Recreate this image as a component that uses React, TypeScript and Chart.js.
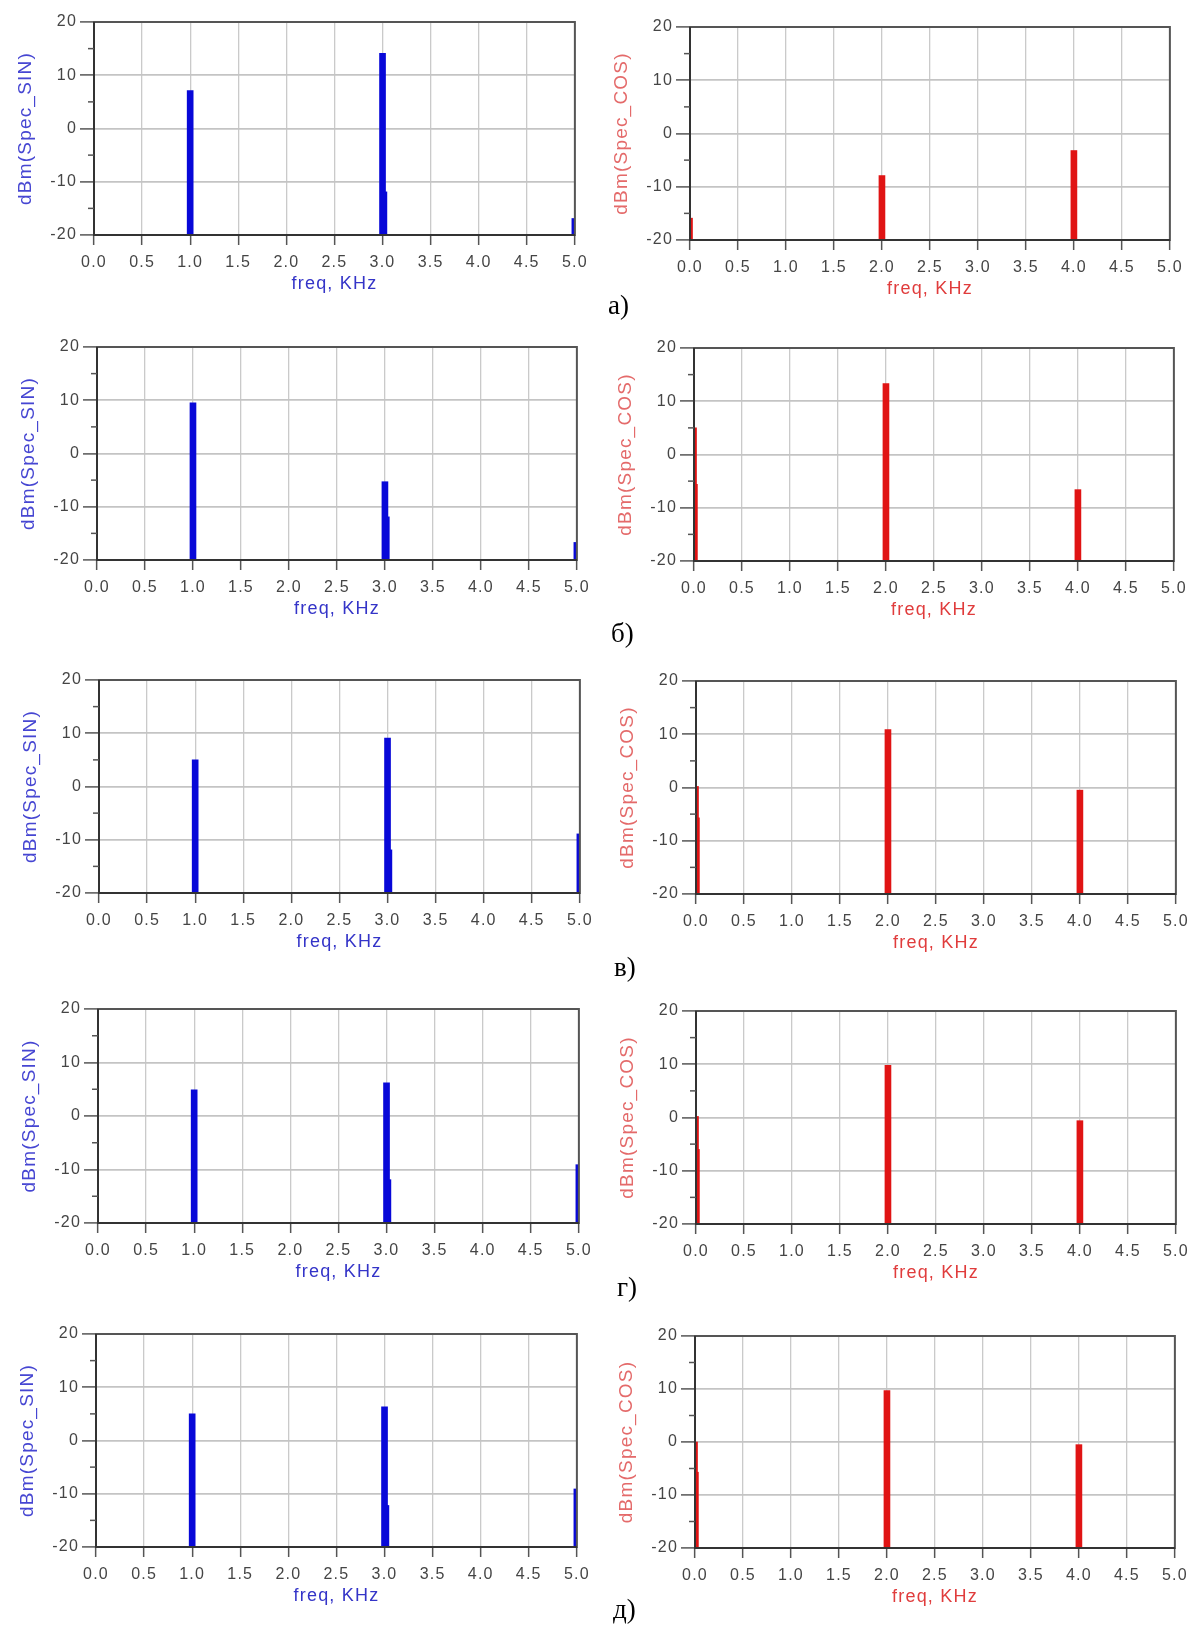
import React, { useEffect, useRef } from 'react';
import { Chart, registerables } from 'chart.js';

Chart.register(...registerables);

// ---------- data ----------
const ROW_LABELS = ['а)', 'б)', 'в)', 'г)', 'д)'];
const X_TITLE = 'freq, KHz';
const SIN_Y_TITLE = 'dBm(Spec_SIN)';
const COS_Y_TITLE = 'dBm(Spec_COS)';

const X_MIN = 0;
const X_MAX = 5;
const X_STEP = 0.5;
const Y_MIN = -20;
const Y_MAX = 20;
const Y_STEP = 10;
const Y_MINOR_TICKS = [-15, -5, 5, 15];

// spectral lines of Spec_SIN (kHz)
const SIN_PEAK_FREQ = [1.0, 3.0];
const SIN_EDGE_FREQ = [5.0];
const SIN_SIDE_FREQ = [3.035];
// dBm per row (а..д)
const SIN_PEAKS_A = [7.1, 14.1];
const SIN_PEAKS_B = [9.5, -5.3];
const SIN_PEAKS_V = [5.0, 9.1];
const SIN_PEAKS_G = [4.9, 6.2];
const SIN_PEAKS_D = [5.0, 6.3];
const SIN_EDGE_DBM = [-16.9, -16.7, -8.9, -9.1, -9.1];
const SIN_SIDE_DBM = [-11.9, -11.9, -11.9, -11.9, -12.2];

// spectral lines of Spec_COS (kHz)
const COS_PEAK_FREQ = [2.0, 4.0];
const COS_EDGE_FREQ = [0.0];
const COS_SIDE_FREQ = [0.025];
const COS_PEAKS_A = [-7.9, -3.2];
const COS_PEAKS_B = [13.3, -6.6];
const COS_PEAKS_V = [10.9, -0.5];
const COS_PEAKS_G = [9.8, -0.6];
const COS_PEAKS_D = [9.7, -0.5];
const COS_EDGE_DBM = [-15.9, 5.0, 0.2, 0.2, 0.0];
const COS_SIDE_DBM = [-20, -5.6, -5.7, -6.0, -5.7];

const SIN_PEAKS = [SIN_PEAKS_A, SIN_PEAKS_B, SIN_PEAKS_V, SIN_PEAKS_G, SIN_PEAKS_D];
const COS_PEAKS = [COS_PEAKS_A, COS_PEAKS_B, COS_PEAKS_V, COS_PEAKS_G, COS_PEAKS_D];

// ---------- layout (page pixels) ----------
const SIN_RECTS = [
  { left: 94, right: 578, top: 22, bottom: 235 },
  { left: 97, right: 580, top: 347, bottom: 560 },
  { left: 99, right: 583, top: 680, bottom: 893 },
  { left: 98, right: 582, top: 1009, bottom: 1223 },
  { left: 96, right: 580, top: 1334, bottom: 1547 },
];
const COS_RECTS = [
  { left: 690, right: 1173, top: 27, bottom: 240 },
  { left: 694, right: 1177, top: 348, bottom: 561 },
  { left: 696, right: 1179, top: 681, bottom: 894 },
  { left: 696, right: 1179, top: 1011, bottom: 1224 },
  { left: 695, right: 1178, top: 1336, bottom: 1548 },
];
const LABEL_POS = [
  { left: 608, cy: 305 },
  { left: 611, cy: 633 },
  { left: 614, cy: 967 },
  { left: 617, cy: 1287 },
  { left: 613, cy: 1609 },
];

const FONT = '"Liberation Sans", Arial, sans-serif';
const PAD_TOP = 14;
const PAD_RIGHT = 16;
const Y_AXIS_W = 80;
const X_AXIS_H = 60;

const framePlugin = {
  id: 'adsFrame',
  beforeDraw(chart: any) {
    chart.ctx.letterSpacing = '1.2px';
  },
  afterDatasetsDraw(chart: any) {
    const { ctx, chartArea: a, scales } = chart;
    ctx.save();
    ctx.strokeStyle = '#555';
    ctx.lineWidth = 2;
    ctx.strokeRect(a.left, a.top, a.right - a.left, a.bottom - a.top);
    ctx.strokeStyle = '#333';
    ctx.beginPath();
    ctx.moveTo(a.left, a.top);
    ctx.lineTo(a.left, a.bottom);
    ctx.lineTo(a.right, a.bottom);
    ctx.stroke();
    ctx.lineWidth = 1.5;
    ctx.strokeStyle = '#555';
    for (const v of Y_MINOR_TICKS) {
      const y = scales.y.getPixelForValue(v);
      ctx.beginPath();
      ctx.moveTo(a.left - 6, y);
      ctx.lineTo(a.left, y);
      ctx.stroke();
    }
    ctx.restore();
  },
};

type PanelProps = {
  rect: { left: number; right: number; top: number; bottom: number };
  peakFreq: number[];
  peakVals: number[];
  edgeFreq: number[];
  edgeVal: number;
  sideFreq: number[];
  sideVal: number;
  barColor: string;
  yTitle: string;
  yTitleColor: string;
  xTitleColor: string;
  edgeThickness: number;
};

function SpectrumPanel(p: PanelProps) {
  const ref = useRef<HTMLCanvasElement>(null);
  const w = Y_AXIS_W + (p.rect.right - p.rect.left) + PAD_RIGHT;
  const h = PAD_TOP + (p.rect.bottom - p.rect.top) + X_AXIS_H;

  useEffect(() => {
    if (!ref.current) return;
    const chart = new Chart(ref.current, {
      type: 'bar',
      data: {
        datasets: [
          {
            data: p.peakFreq.map((f, i) => ({ x: f, y: p.peakVals[i] })),
            base: Y_MIN,
            barThickness: 6,
            backgroundColor: p.barColor,
            borderWidth: 0,
            grouped: false,
            clip: 0,
          },
          {
            data: p.edgeFreq.map((f) => ({ x: f, y: p.edgeVal })),
            base: Y_MIN,
            barThickness: p.edgeThickness,
            backgroundColor: p.barColor,
            borderWidth: 0,
            grouped: false,
            clip: 0,
          },
          {
            data: p.sideFreq.map((f) => ({ x: f, y: p.sideVal })),
            base: Y_MIN,
            barThickness: 2,
            backgroundColor: p.barColor,
            borderWidth: 0,
            grouped: false,
            clip: 0,
          },
        ],
      } as any,
      options: {
        responsive: false,
        animation: false,
        devicePixelRatio: 1,
        layout: { padding: { top: PAD_TOP, right: PAD_RIGHT, left: 0, bottom: 0 } },
        plugins: { legend: { display: false }, tooltip: { enabled: false } },
        scales: {
          x: {
            type: 'linear',
            min: X_MIN,
            max: X_MAX,
            offset: false,
            afterFit: (s: any) => {
              s.height = X_AXIS_H;
            },
            grid: {
              offset: false,
              color: '#cacaca',
              lineWidth: 1.3,
              tickColor: '#555',
              tickWidth: 1.5,
              tickLength: 10,
            },
            border: { display: false },
            ticks: {
              stepSize: X_STEP,
              autoSkip: false,
              maxRotation: 0,
              padding: 8,
              color: '#454545',
              font: { family: FONT, size: 16 },
              callback: (v: any) => Number(v).toFixed(1),
            },
            title: {
              display: true,
              text: X_TITLE,
              color: p.xTitleColor,
              font: { family: FONT, size: 18 },
              padding: { top: 0, bottom: 0 },
            },
          },
          y: {
            type: 'linear',
            min: Y_MIN,
            max: Y_MAX,
            afterFit: (s: any) => {
              s.width = Y_AXIS_W;
            },
            grid: {
              color: '#c4c4c4',
              lineWidth: 1.8,
              tickColor: '#555',
              tickWidth: 1.5,
              tickLength: 14,
            },
            border: { display: false },
            ticks: {
              stepSize: Y_STEP,
              padding: 3,
              color: '#454545',
              font: { family: FONT, size: 16 },
            },
            title: {
              display: true,
              text: p.yTitle,
              color: p.yTitleColor,
              font: { family: FONT, size: 19 },
              padding: { top: 0, bottom: 0 },
            },
          },
        },
      } as any,
      plugins: [framePlugin],
    });
    return () => chart.destroy();
  }, []);

  return (
    <canvas
      ref={ref}
      width={w}
      height={h}
      style={{ position: 'absolute', left: p.rect.left - Y_AXIS_W, top: p.rect.top - PAD_TOP, width: w, height: h }}
    />
  );
}

export default function App() {
  return (
    <div
      style={{
        position: 'absolute',
        left: 0,
        top: 0,
        width: 1200,
        height: 1629,
        overflow: 'hidden',
        background: '#fff',
      }}
    >
      {ROW_LABELS.map((lbl, i) => (
        <React.Fragment key={i}>
          <SpectrumPanel
            rect={SIN_RECTS[i]}
            peakFreq={SIN_PEAK_FREQ}
            peakVals={SIN_PEAKS[i]}
            edgeFreq={SIN_EDGE_FREQ}
            edgeVal={SIN_EDGE_DBM[i]}
            sideFreq={SIN_SIDE_FREQ}
            sideVal={SIN_SIDE_DBM[i]}
            barColor="#0808d8"
            yTitle={SIN_Y_TITLE}
            yTitleColor="#4646d2"
            xTitleColor="#3434c8"
            edgeThickness={6}
          />
          <SpectrumPanel
            rect={COS_RECTS[i]}
            peakFreq={COS_PEAK_FREQ}
            peakVals={COS_PEAKS[i]}
            edgeFreq={COS_EDGE_FREQ}
            edgeVal={COS_EDGE_DBM[i]}
            sideFreq={COS_SIDE_FREQ}
            sideVal={COS_SIDE_DBM[i]}
            barColor="#e01414"
            yTitle={COS_Y_TITLE}
            yTitleColor="#e46a6a"
            xTitleColor="#e03c3c"
            edgeThickness={5}
          />
          <div
            style={{
              position: 'absolute',
              left: LABEL_POS[i].left,
              top: LABEL_POS[i].cy - 15,
              fontFamily: '"Liberation Serif", "Times New Roman", serif',
              fontSize: 27,
              lineHeight: '30px',
              color: '#000',
            }}
          >
            {lbl}
          </div>
        </React.Fragment>
      ))}
    </div>
  );
}
